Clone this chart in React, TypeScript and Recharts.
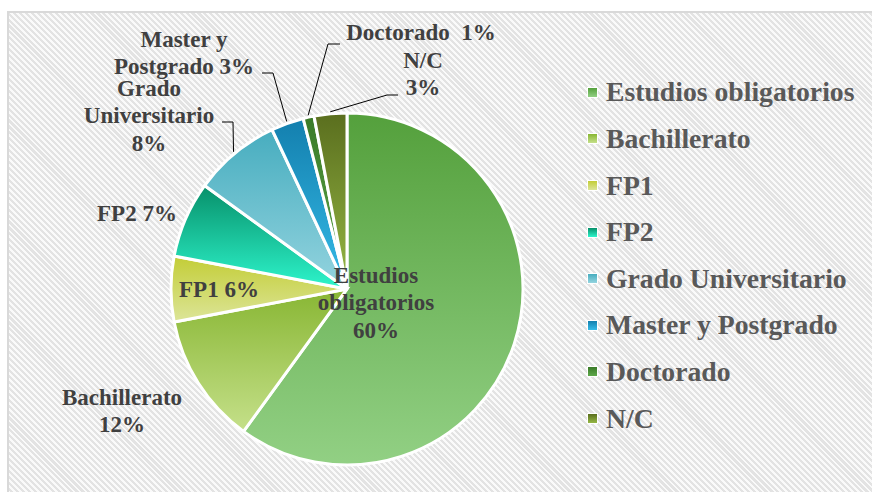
import { PieChart, Pie, Cell, Legend } from 'recharts';

const categories = [
  'Estudios obligatorios',
  'Bachillerato',
  'FP1',
  'FP2',
  'Grado Universitario',
  'Master y Postgrado',
  'Doctorado',
  'N/C',
];
const shares = [60, 12, 6, 7, 8, 3, 1, 3];
const gradTop = ['#54a03c', '#88b633', '#c3cd36', '#07906a', '#47adbf', '#137fae', '#3a7a28', '#5a6e1e'];
const gradBottom = ['#92d084', '#c5e08a', '#dce599', '#2ef5cc', '#94d4df', '#36bce8', '#5ea84a', '#96b845'];

const data = categories.map((name, i) => ({ name, value: shares[i] }));

const FONT = '"Liberation Serif", "Times New Roman", serif';
const RAD = Math.PI / 180;
const LINE_GAP = 27.5;

// where each data label sits, relative to the pie centre (Excel places them by hand)
type LabelSpot = {
  dx: number;
  dy: number;
  lines: (name: string, pct: string) => string[];
  elbow?: [number, number];
  end?: [number, number];
};

const labelSpots: LabelSpot[] = [
  { dx: 29, dy: -14, lines: (n, p) => [...n.split(' '), p] },
  { dx: -225, dy: 108, lines: (n, p) => [n, p] },
  { dx: -128, dy: 0, lines: (n, p) => [`${n} ${p}`] },
  { dx: -210, dy: -76, lines: (n, p) => [`${n} ${p}`] },
  { dx: -198, dy: -201, lines: (n, p) => [...n.split(' '), p], elbow: [-114, -167], end: [-125, -167] },
  { dx: -163, dy: -250, lines: (n, p) => ['Master y', `${n.replace('Master y ', '')} ${p}`], elbow: [-74, -216], end: [-85, -216] },
  { dx: 74, dy: -257, lines: (n, p) => [`${n}  ${p}`], elbow: [-19, -245], end: [-7, -245] },
  { dx: 76, dy: -229, lines: (n, p) => [n, p], elbow: [40, -194], end: [51, -194] },
];

function renderLabel(props: any) {
  const { cx, cy, midAngle, outerRadius, percent, name, index } = props;
  const spot = labelSpots[index];
  if (!spot) return null;
  const pct = `${Math.round(percent * 100)}%`;
  const lines = spot.lines(name, pct);
  const x = cx + spot.dx;
  const y = cy + spot.dy;
  let leader = null;
  if (spot.elbow && spot.end) {
    const r = outerRadius + 2;
    const sx = cx + Math.cos(-midAngle * RAD) * r;
    const sy = cy + Math.sin(-midAngle * RAD) * r;
    const pts = `${sx},${sy} ${cx + spot.elbow[0]},${cy + spot.elbow[1]} ${cx + spot.end[0]},${cy + spot.end[1]}`;
    leader = <polyline points={pts} fill="none" stroke="#000" strokeWidth={1} />;
  }
  return (
    <g key={`lbl-${index}`}>
      {leader}
      {lines.map((t, k) => (
        <text
          key={k}
          x={x}
          y={y + k * LINE_GAP}
          textAnchor="middle"
          dominantBaseline="central"
          fill="#404040"
          fontFamily={FONT}
          fontWeight="bold"
          fontSize={23}
          style={{ whiteSpace: 'pre' }}
        >
          {t}
        </text>
      ))}
    </g>
  );
}

// legend drawn in data order (Recharts would sort it by name otherwise)
function renderLegend() {
  return (
    <div style={{ fontFamily: FONT, fontWeight: 'bold', fontSize: 27.7, color: '#595959' }}>
      {categories.map((name, i) => (
        <div key={name} style={{ display: 'flex', alignItems: 'center', height: 46.6 }}>
          <span
            style={{
              flex: 'none',
              width: 9,
              height: 9,
              border: '1px solid #fff',
              background: `linear-gradient(${gradTop[i]}, ${gradBottom[i]})`,
              marginRight: 8,
            }}
          />
          <span style={{ whiteSpace: 'nowrap', lineHeight: 1 }}>{name}</span>
        </div>
      ))}
    </div>
  );
}

export default function App() {
  return (
    <div style={{ position: 'absolute', left: 0, top: 0, width: 872, height: 492, overflow: 'hidden', background: '#fff' }}>
      <div
        style={{
          position: 'absolute',
          left: 7,
          top: 11,
          width: 880,
          height: 500,
          boxSizing: 'border-box',
          borderLeft: '2px solid #d9d9d9',
          borderTop: '2px solid #d9d9d9',
          background: 'repeating-linear-gradient(45deg, #fafafa 0px, #fafafa 2px, #e3e3e3 2px, #e3e3e3 4.2px)',
        }}
      />
      <div style={{ position: 'absolute', left: 0, top: 0 }}>
        <PieChart width={872} height={492} margin={{ top: 0, right: 0, bottom: 0, left: 0 }}>
          <defs>
            {gradTop.map((c, i) => (
              <linearGradient key={i} id={`slice${i}`} x1="0" y1="0" x2="0" y2="1">
                <stop offset="0%" stopColor={c} />
                <stop offset="100%" stopColor={gradBottom[i]} />
              </linearGradient>
            ))}
          </defs>
          <Pie
            data={data}
            dataKey="value"
            nameKey="name"
            cx={347}
            cy={289}
            outerRadius={176}
            startAngle={90}
            endAngle={-270}
            stroke="#fff"
            strokeWidth={3}
            label={renderLabel}
            labelLine={false}
            isAnimationActive={false}
          >
            {data.map((d, i) => (
              <Cell key={d.name} fill={`url(#slice${i})`} />
            ))}
          </Pie>
          <Legend
            layout="vertical"
            align="right"
            verticalAlign="middle"
            content={renderLegend}
            wrapperStyle={{ left: 587, top: 69, width: 285, right: 'auto', bottom: 'auto' }}
          />
        </PieChart>
      </div>
    </div>
  );
}
